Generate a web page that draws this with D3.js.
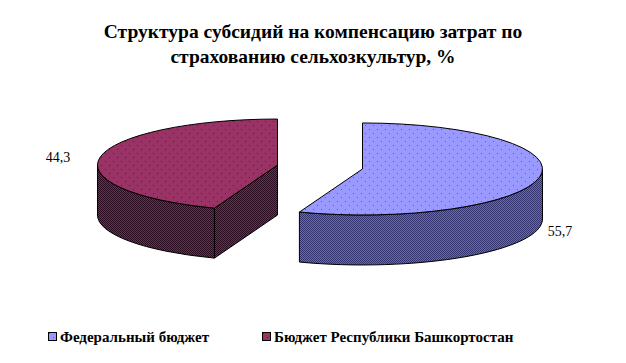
<!DOCTYPE html>
<html>
<head>
<meta charset="utf-8">
<script src="https://cdn.jsdelivr.net/npm/d3@7"></script>
<style>
  body { margin: 0; background: #fff; }
  text { font-family: 'Liberation Serif', 'DejaVu Serif', 'Times New Roman', serif; }
</style>
</head>
<body>
<div id="chart"></div>
<script>
// данные
var categories = ["Федеральный бюджет", "Бюджет Республики Башкортостан"];
var values = [55.7, 44.3];
var titleLines = ["Структура субсидий на компенсацию затрат по", "страхованию сельхозкультур, %"];

var width = 626, height = 363;
var topColors = ["#9999ff", "#993366"];
var dotColors = ["#5c5cb8", "#5a1a3a"];
var sideLight = ["#6a6ab0", "#7a2a55"];
var sideDark = ["#333370", "#2a0a1e"];

var cx = 320, cy = 167, rx = 180, ry = 46, depth = 50, explode = 0.24;

var ru = d3.formatLocale({decimal: ",", thousands: " ", grouping: [3], currency: ["", ""]});
var fmt = ru.format(".1f");

var svg = d3.select("#chart").append("svg")
    .attr("width", width)
    .attr("height", height);

// узоры заливки
var defs = svg.append("defs");
categories.forEach(function(c, i){
    var p = defs.append("pattern")
        .attr("id", "top" + i)
        .attr("patternUnits", "userSpaceOnUse")
        .attr("width", 8).attr("height", 8);
    p.append("rect").attr("width", 8).attr("height", 8).attr("fill", topColors[i]);
    p.append("rect").attr("x", 1).attr("y", 1).attr("width", 1).attr("height", 1).attr("fill", dotColors[i]);
    p.append("rect").attr("x", 5).attr("y", 5).attr("width", 1).attr("height", 1).attr("fill", dotColors[i]);

    var s = defs.append("pattern")
        .attr("id", "side" + i)
        .attr("patternUnits", "userSpaceOnUse")
        .attr("width", 2).attr("height", 2);
    s.append("rect").attr("width", 2).attr("height", 2).attr("fill", sideLight[i]);
    s.append("rect").attr("width", 1).attr("height", 1).attr("fill", sideDark[i]);
    s.append("rect").attr("x", 1).attr("y", 1).attr("width", 1).attr("height", 1).attr("fill", sideDark[i]);
});

// заголовок
svg.append("g").selectAll("text")
    .data(titleLines)
    .enter().append("text")
    .attr("x", 313)
    .attr("y", function(d, i){ return 38 + i * 25; })
    .attr("text-anchor", "middle")
    .style("font-size", "19.5px")
    .style("font-weight", "bold")
    .text(function(d){ return d; });

var pie = d3.pie().sort(null).value(function(d){ return d; });
var arcs = pie(values);

function pt(a, c, dy){
    return [c[0] + rx * Math.sin(a), c[1] - ry * Math.cos(a) + (dy || 0)];
}

var pieG = svg.append("g");

// рисуем сначала дальний сектор
var order = arcs.map(function(d, i){ return i; }).sort(function(a, b){
    return Math.cos((arcs[b].startAngle + arcs[b].endAngle) / 2) - Math.cos((arcs[a].startAngle + arcs[a].endAngle) / 2);
});

order.forEach(function(i){
    var d = arcs[i];
    var a0 = d.startAngle, a1 = d.endAngle, mid = (a0 + a1) / 2;
    var c = [cx + explode * rx * Math.sin(mid), cy - explode * ry * Math.cos(mid)];
    var g = pieG.append("g");

    // боковые стенки по радиусам
    [[a0, a0 - Math.PI / 2], [a1, a1 + Math.PI / 2]].forEach(function(w){
        if (Math.cos(w[1]) >= -1e-6) return;
        var p = pt(w[0], c), q = pt(w[0], c, depth);
        g.append("path")
            .attr("d", "M" + c + "L" + p + "L" + q + "L" + [c[0], c[1] + depth] + "Z")
            .attr("fill", "url(#side" + i + ")")
            .attr("stroke", "#000").attr("stroke-width", 1);
    });

    // внешняя боковая поверхность
    var s = Math.max(a0, Math.PI / 2), e = Math.min(a1, 3 * Math.PI / 2);
    if (e > s) {
        var lg = (e - s) > Math.PI ? 1 : 0;
        g.append("path")
            .attr("d", "M" + pt(s, c) + "A" + rx + "," + ry + " 0 " + lg + ",1 " + pt(e, c) +
                "L" + pt(e, c, depth) + "A" + rx + "," + ry + " 0 " + lg + ",0 " + pt(s, c, depth) + "Z")
            .attr("fill", "url(#side" + i + ")")
            .attr("stroke", "#000").attr("stroke-width", 1);
    }

    // верхняя грань
    var big = (a1 - a0) > Math.PI ? 1 : 0;
    g.append("path")
        .attr("d", "M" + c + "L" + pt(a0, c) + "A" + rx + "," + ry + " 0 " + big + ",1 " + pt(a1, c) + "Z")
        .attr("fill", "url(#top" + i + ")")
        .attr("stroke", "#000").attr("stroke-width", 1);

    // подпись значения
    var lp = pt(mid, c, Math.cos(mid) < 0 ? depth + 4 : 0);
    var right = Math.sin(mid) > 0;
    svg.append("text")
        .attr("x", lp[0] + (right ? 8 : -30))
        .attr("y", lp[1])
        .attr("dy", "0.35em")
        .attr("text-anchor", right ? "start" : "end")
        .style("font-size", "14px")
        .text(fmt(d.data));
});

// легенда
var legX = [48, 262];
var leg = svg.append("g").selectAll("g")
    .data(categories)
    .enter().append("g")
    .attr("transform", function(d, i){ return "translate(" + legX[i] + ",332)"; });

leg.append("rect")
    .attr("x", 0.5).attr("y", 0.5)
    .attr("width", 8).attr("height", 8)
    .attr("fill", function(d, i){ return "url(#top" + i + ")"; })
    .attr("stroke", "#000");

leg.append("text")
    .attr("x", 12)
    .attr("y", 10)
    .style("font-size", "15px")
    .style("font-weight", "bold")
    .text(function(d){ return d; });
</script>
</body>
</html>
